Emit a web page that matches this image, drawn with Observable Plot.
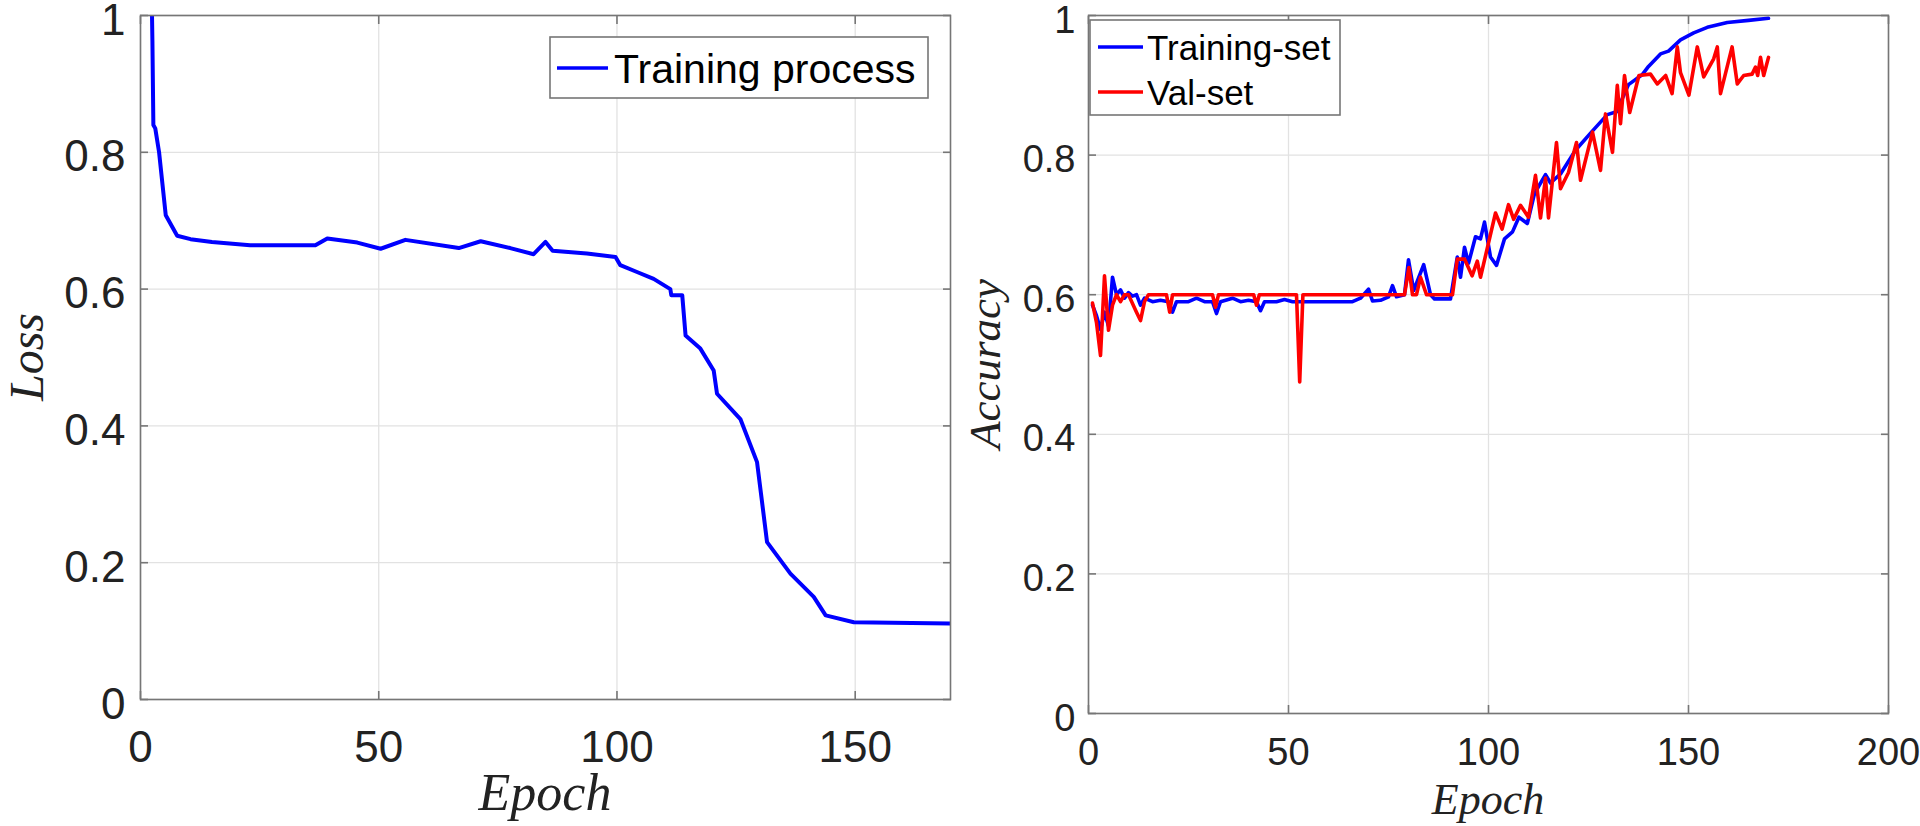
<!DOCTYPE html>
<html><head><meta charset="utf-8">
<script src="https://cdn.jsdelivr.net/npm/d3@7"></script>
<script src="https://cdn.jsdelivr.net/npm/@observablehq/plot@0.6"></script>
<style>
body{margin:0;background:#fff;width:1920px;height:826px;overflow:hidden;position:relative;font-family:"Liberation Sans",Arial,sans-serif}
.panel{position:absolute;top:0}
#overlay{position:absolute;left:0;top:0;pointer-events:none}
</style></head><body>
<div id="left" class="panel" style="left:0"></div>
<div id="right" class="panel" style="left:1000px"></div>
<svg id="overlay" width="1920" height="826"></svg>
<script>
// ---------- data ----------
const lossEpoch = [2.3, 2.5, 2.7, 3.1, 3.9, 5.3, 7.7, 10.5, 15, 23, 36.7, 39.2, 45.5, 50.4, 55.6, 66.8, 71.4, 77.6, 82.5, 85, 86.5, 93.7, 99.7, 100.7, 104.2, 107.7, 111.2, 111.4, 113.7, 114.4, 117.5, 120.3, 121, 125.9, 129.4, 131.5, 136.4, 141.3, 143.8, 149.7, 170];
const lossValue = [1.05, 0.963, 0.84, 0.835, 0.80, 0.708, 0.678, 0.673, 0.669, 0.664, 0.664, 0.674, 0.668, 0.659, 0.672, 0.660, 0.670, 0.660, 0.651, 0.669, 0.656, 0.652, 0.647, 0.635, 0.625, 0.615, 0.600, 0.591, 0.591, 0.532, 0.513, 0.481, 0.447, 0.410, 0.347, 0.230, 0.184, 0.150, 0.123, 0.113, 0.111];

const trainEpoch = [1,2,3,4,5,6,7,8,9,10,11,12,13,14,16,18,20,21,22,25,27,29,31,32,33,36,38,40,42,43,44,47,49,51,66,68,70,71,73,75,76,77,79,80,81.3,83.8,85.5,86.5,90.5,92.2,93,94,95,96.75,98,99,100.5,102,104,106,107.6,109.7,111.5,114.25,115.5,118,121.75,125.9,129.7,132,135,138.4,140,143,145,148,151.3,154.7,159.7,165,170];
const trainAcc = [0.585,0.57,0.55,0.575,0.555,0.625,0.60,0.607,0.595,0.603,0.598,0.60,0.585,0.595,0.59,0.592,0.59,0.575,0.59,0.59,0.595,0.59,0.59,0.573,0.59,0.595,0.59,0.592,0.59,0.577,0.59,0.59,0.593,0.59,0.59,0.595,0.608,0.591,0.592,0.597,0.613,0.597,0.60,0.65,0.606,0.643,0.60,0.594,0.594,0.654,0.625,0.668,0.645,0.683,0.68,0.704,0.654,0.642,0.68,0.69,0.711,0.702,0.745,0.772,0.76,0.773,0.807,0.834,0.858,0.862,0.901,0.915,0.927,0.945,0.949,0.965,0.975,0.983,0.99,0.993,0.996];

const valEpoch = [1,2,3,4,5,6,7,8,9,10,12,13,14,15,19.5,20.3,21,31,31.75,32.5,41.3,42,42.7,52,52.8,53.6,79,80.1,81,82,83,84.5,91,92.2,94,95.9,97.2,98,101.75,103.4,105,106.3,108,110,111.75,113,114.25,115,117,118,120,122,123,126,128,129.25,131,132.2,133,134,135.3,137.6,140.5,142.2,144.3,145.9,147.2,148,150.1,152.2,153.8,156.3,157.2,158,160.9,162.2,163.8,165.9,166.75,167.3,168,168.8,170];
const valAcc = [0.588,0.56,0.513,0.627,0.549,0.585,0.60,0.59,0.60,0.60,0.575,0.563,0.59,0.60,0.60,0.575,0.60,0.60,0.582,0.60,0.60,0.585,0.60,0.60,0.475,0.60,0.60,0.639,0.60,0.60,0.625,0.60,0.60,0.651,0.651,0.627,0.648,0.625,0.717,0.694,0.729,0.708,0.728,0.711,0.771,0.710,0.767,0.71,0.818,0.752,0.775,0.818,0.764,0.833,0.778,0.859,0.804,0.90,0.845,0.914,0.861,0.914,0.916,0.902,0.914,0.888,0.955,0.918,0.886,0.955,0.912,0.938,0.955,0.888,0.955,0.902,0.914,0.916,0.926,0.914,0.94,0.914,0.94];

const lossXTicks = [0, 50, 100, 150];
const accXTicks = [0, 50, 100, 150, 200];
const yTicks = [0, 0.2, 0.4, 0.6, 0.8, 1];

const lossLabel = "Training process";
const trainLabel = "Training-set";
const valLabel = "Val-set";

// ---------- styling ----------
const frameColor = "#767676", gridColor = "#e2e2e2", textColor = "#222222";
const blue = "#0000ff", red = "#ff0000";

function axesMarks(xTicks, fontSize, padX, padY) {
  const fmt = d => String(d);
  const blank = () => "";
  return [
    Plot.frame({stroke: frameColor, strokeWidth: 1.6}),
    Plot.axisX(xTicks, {anchor: "bottom", tickSize: 0, tickPadding: padX, fontSize, fill: textColor, label: null, tickFormat: fmt}),
    Plot.axisY(yTicks, {anchor: "left", tickSize: 0, tickPadding: padY, fontSize, fill: textColor, label: null, tickFormat: fmt, dy: 5}),
    Plot.axisX(xTicks, {anchor: "bottom", tickSize: -8, stroke: frameColor, strokeWidth: 1.6, label: null, tickFormat: blank}),
    Plot.axisX(xTicks, {anchor: "top", tickSize: -8, stroke: frameColor, strokeWidth: 1.6, label: null, tickFormat: blank}),
    Plot.axisY(yTicks, {anchor: "left", tickSize: -8, stroke: frameColor, strokeWidth: 1.6, label: null, tickFormat: blank}),
    Plot.axisY(yTicks, {anchor: "right", tickSize: -8, stroke: frameColor, strokeWidth: 1.6, label: null, tickFormat: blank})
  ];
}

const lossData = lossEpoch.map((e, i) => ({epoch: e, value: lossValue[i]}));
const trainData = trainEpoch.map((e, i) => ({epoch: e, value: trainAcc[i]}));
const valData = valEpoch.map((e, i) => ({epoch: e, value: valAcc[i]}));

const leftPlot = Plot.plot({
  width: 1000, height: 826,
  marginLeft: 140, marginRight: 50, marginTop: 15, marginBottom: 127,
  style: {fontFamily: "Liberation Sans, Arial, sans-serif", background: "transparent", overflow: "visible"},
  x: {domain: [0, 170]},
  y: {domain: [0, 1]},
  marks: [
    Plot.gridX(lossXTicks, {stroke: gridColor, strokeOpacity: 1, strokeWidth: 1.3}),
    Plot.gridY(yTicks, {stroke: gridColor, strokeOpacity: 1, strokeWidth: 1.3}),
    Plot.line(lossData, {x: "epoch", y: "value", stroke: blue, strokeWidth: 4, strokeLinejoin: "round", clip: true}),
    ...axesMarks(lossXTicks, 44, 31, 15)
  ]
});
document.getElementById("left").appendChild(leftPlot);

const rightPlot = Plot.plot({
  width: 920, height: 826,
  marginLeft: 88, marginRight: 32, marginTop: 15, marginBottom: 113,
  style: {fontFamily: "Liberation Sans, Arial, sans-serif", background: "transparent", overflow: "visible"},
  x: {domain: [0, 200]},
  y: {domain: [0, 1]},
  marks: [
    Plot.gridX(accXTicks, {stroke: gridColor, strokeOpacity: 1, strokeWidth: 1.3}),
    Plot.gridY(yTicks, {stroke: gridColor, strokeOpacity: 1, strokeWidth: 1.3}),
    Plot.line(trainData, {x: "epoch", y: "value", stroke: blue, strokeWidth: 3.6, strokeLinejoin: "round", clip: true}),
    Plot.line(valData, {x: "epoch", y: "value", stroke: red, strokeWidth: 3.6, strokeLinejoin: "round", clip: true}),
    ...axesMarks(accXTicks, 38, 25, 13)
  ]
});
document.getElementById("right").appendChild(rightPlot);

// ---------- titles & legends ----------
const ov = d3.select("#overlay");
const serif = "Liberation Serif, Times New Roman, serif";
ov.append("text").attr("transform", "translate(43,357) rotate(-90)").attr("text-anchor", "middle")
  .attr("font-family", serif).attr("font-style", "italic").attr("font-size", 48).attr("fill", textColor).text("Loss");
ov.append("text").attr("x", 545).attr("y", 810).attr("text-anchor", "middle")
  .attr("font-family", serif).attr("font-style", "italic").attr("font-size", 52).attr("fill", textColor).text("Epoch");
ov.append("text").attr("transform", "translate(1000,364) rotate(-90)").attr("text-anchor", "middle")
  .attr("font-family", serif).attr("font-style", "italic").attr("font-size", 45).attr("fill", textColor).text("Accuracy");
ov.append("text").attr("x", 1488).attr("y", 814).attr("text-anchor", "middle")
  .attr("font-family", serif).attr("font-style", "italic").attr("font-size", 44).attr("fill", textColor).text("Epoch");

function legend(x, y, w, h, items, lineX1, lineX2, textX, fontSize) {
  const g = ov.append("g");
  g.append("rect").attr("x", x).attr("y", y).attr("width", w).attr("height", h)
    .attr("fill", "#fff").attr("stroke", frameColor).attr("stroke-width", 1.6);
  for (const it of items) {
    g.append("line").attr("x1", lineX1).attr("x2", lineX2).attr("y1", it.ly).attr("y2", it.ly)
      .attr("stroke", it.color).attr("stroke-width", 3.6);
    g.append("text").attr("x", textX).attr("y", it.by).attr("font-family", "Liberation Sans, Arial, sans-serif")
      .attr("font-size", fontSize).attr("fill", "#000").text(it.label);
  }
}
legend(550, 37, 378, 61, [{label: lossLabel, color: blue, ly: 68, by: 83}], 557, 608, 614, 41);
legend(1090, 20, 250, 95, [
  {label: trainLabel, color: blue, ly: 47, by: 60},
  {label: valLabel, color: red, ly: 92, by: 105}
], 1098, 1143, 1147, 35);
</script>
</body></html>
